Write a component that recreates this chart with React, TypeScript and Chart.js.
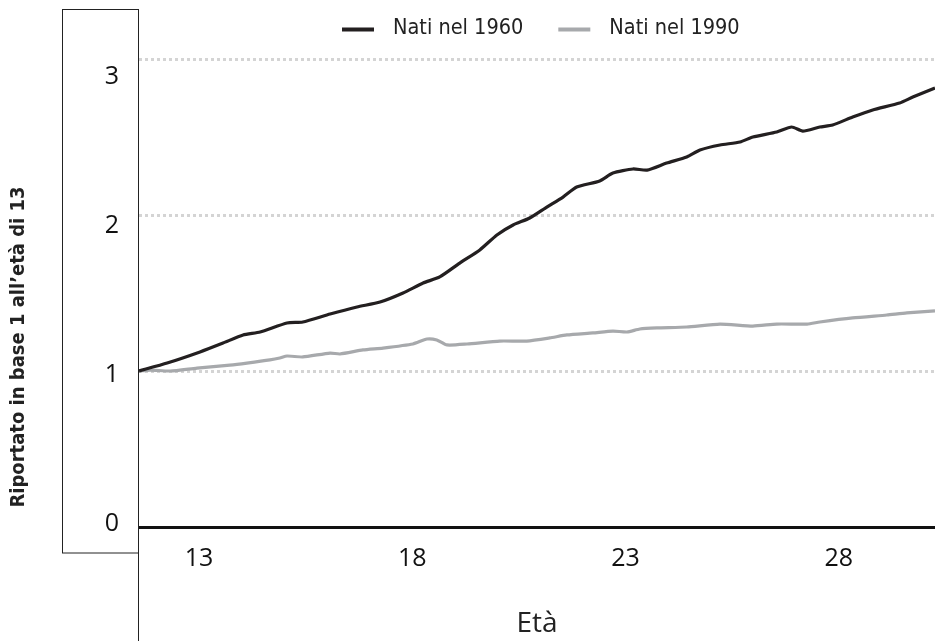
import React, { useEffect, useRef } from "react";
import { Chart, registerables } from "chart.js";

Chart.register(...registerables);

// ---- Data ----
const SERIES_LABELS = ["Nati nel 1960", "Nati nel 1990"];
const SERIES_COLORS = ["#231f20", "#a7a9ac"];

const ages1960 = [13.0, 13.66, 14.43, 14.97, 15.44, 15.84, 16.47, 16.84, 17.48, 18.11, 18.65, 19.19, 19.66, 20.05, 20.52, 20.99, 21.39, 21.77, 22.16, 22.56, 22.94, 23.26, 23.8, 24.11, 24.58, 24.91, 25.37, 25.84, 26.15, 26.62, 27.09, 27.39, 27.95, 28.3, 28.56, 28.96, 29.26, 29.73, 30.2, 30.83, 31.14, 31.66];
const values1960 = [1.0, 1.051, 1.122, 1.179, 1.231, 1.25, 1.308, 1.314, 1.365, 1.41, 1.442, 1.5, 1.564, 1.603, 1.692, 1.776, 1.872, 1.936, 1.981, 2.051, 2.115, 2.179, 2.218, 2.269, 2.295, 2.288, 2.333, 2.372, 2.417, 2.449, 2.468, 2.5, 2.532, 2.564, 2.538, 2.564, 2.577, 2.628, 2.673, 2.718, 2.756, 2.814];

const ages1990 = [13.0, 13.26, 13.73, 14.36, 15.13, 15.53, 16.07, 16.3, 16.47, 16.84, 17.48, 17.71, 18.25, 18.72, 19.42, 19.75, 19.98, 20.22, 20.69, 21.46, 22.09, 22.63, 23.03, 23.64, 24.11, 24.44, 24.74, 25.14, 25.84, 26.62, 27.39, 27.95, 28.66, 28.96, 29.73, 30.53, 31.0, 31.66];
const values1990 = [1.0, 1.006, 1.0, 1.019, 1.038, 1.051, 1.071, 1.083, 1.096, 1.09, 1.115, 1.109, 1.135, 1.147, 1.173, 1.205, 1.199, 1.167, 1.173, 1.192, 1.192, 1.212, 1.231, 1.244, 1.256, 1.25, 1.269, 1.276, 1.282, 1.301, 1.288, 1.301, 1.301, 1.314, 1.34, 1.359, 1.372, 1.385];

const xTicks = [13, 18, 23, 28];
const yGridTicks = [1, 2, 3];
const yLabelTicks = [0, 1, 2, 3];

const X_MIN = 13;
const X_MAX = 31.66;

const Y_TITLE = "Riportato in base 1 all\u2019et\u00e0 di 13";
const X_TITLE = "Et\u00e0";

const TICK_FONT = "'Open Sans', sans-serif";
const LEGEND_FONT = "'DejaVu Sans Condensed', 'DejaVu Sans', sans-serif";

const TOP = 15; // chart area top
const BOTTOM = 527; // chart area bottom (x axis line)
const LABEL_ZERO = 523.5; // where the "0" label sits

const decorPlugin = {
  id: "decor",
  beforeDatasetsDraw(chart: any) {
    const { ctx, chartArea } = chart;
    ctx.save();
    ctx.strokeStyle = "#222";
    ctx.lineWidth = 1;
    ctx.strokeRect(62.5, 9.5, chartArea.left - 0.5 - 62.5, 553 - 9.5);
    ctx.beginPath();
    ctx.moveTo(chartArea.left - 0.5, 9);
    ctx.lineTo(chartArea.left - 0.5, chart.height);
    ctx.stroke();
    ctx.restore();
  },
  afterDraw(chart: any) {
    const { ctx } = chart;
    ctx.save();
    ctx.translate(19, 347);
    ctx.rotate(-Math.PI / 2);
    ctx.fillStyle = "#222";
    ctx.font = "bold 20px 'DejaVu Sans Condensed', 'DejaVu Sans', sans-serif";
    ctx.textAlign = "center";
    ctx.textBaseline = "middle";
    ctx.fillText(Y_TITLE, 0, 0);
    ctx.restore();

    ctx.save();
    ctx.font = "21.5px " + LEGEND_FONT;
    ctx.textBaseline = "alphabetic";
    ctx.textAlign = "left";
    const items = chart.data.datasets;
    let x = 342;
    items.forEach((ds: any) => {
      ctx.fillStyle = ds.borderColor;
      ctx.fillRect(x, 27.5, 32, 4);
      ctx.fillStyle = "#222";
      ctx.fillText(ds.label, x + 51, 33.5);
      const w = ctx.measureText(ds.label).width;
      x = x + 51 + w + 35;
    });
    ctx.restore();
  },
};

export default function App() {
  const ref = useRef<HTMLCanvasElement | null>(null);
  useEffect(() => {
    if (!ref.current) return;
    const chart = new Chart(ref.current, {
      type: "line",
      data: {
        datasets: [
          {
            label: SERIES_LABELS[0],
            data: ages1960.map((a, i) => ({ x: a, y: values1960[i] })),
            borderColor: SERIES_COLORS[0],
            backgroundColor: SERIES_COLORS[0],
            borderWidth: 3.2,
            pointRadius: 0,
            tension: 0.2,
            yAxisID: "y",
          },
          {
            label: SERIES_LABELS[1],
            data: ages1990.map((a, i) => ({ x: a, y: values1990[i] })),
            borderColor: SERIES_COLORS[1],
            backgroundColor: SERIES_COLORS[1],
            borderWidth: 3.2,
            pointRadius: 0,
            tension: 0.2,
            yAxisID: "y",
          },
        ],
      },
      options: {
        animation: false,
        responsive: true,
        maintainAspectRatio: false,
        layout: { padding: { top: TOP, left: 0, right: 0, bottom: 0 } },
        plugins: {
          legend: { display: false },
          tooltip: { enabled: false },
        },
        scales: {
          x: {
            type: "linear",
            min: X_MIN,
            max: X_MAX,
            afterBuildTicks: (s: any) => {
              s.ticks = xTicks.map((v) => ({ value: v }));
            },
            afterFit: (s: any) => {
              s.height = 641 - BOTTOM;
            },
            grid: { display: true, color: "rgba(0,0,0,0)", drawTicks: false },
            border: { display: true, color: "#111", width: 3 },
            ticks: {
              autoSkip: false,
              maxRotation: 0,
              labelOffset: 60,
              padding: 17,
              color: "#111",
              font: { family: TICK_FONT, size: 25 },
            },
            title: {
              display: true,
              text: X_TITLE,
              color: "#222",
              font: { family: TICK_FONT, size: 28 },
              padding: { top: 0, bottom: 0 },
            },
          },
          y: {
            type: "linear",
            position: "left",
            min: 0,
            max: (BOTTOM - TOP) / 156,
            afterBuildTicks: (s: any) => {
              s.ticks = yGridTicks.map((v) => ({ value: v }));
            },
            afterFit: (s: any) => {
              s.width = 0;
            },
            ticks: { display: false, padding: 0 },
            grid: {
              color: "#d4d4d4",
              lineWidth: 3,
              drawTicks: false,
            },
            border: { display: false, dash: [3, 3] },
          },
          yl: {
            type: "linear",
            position: "left",
            min: (LABEL_ZERO - BOTTOM) / 149,
            max: (LABEL_ZERO - TOP) / 149,
            afterBuildTicks: (s: any) => {
              s.ticks = yLabelTicks.map((v) => ({ value: v }));
            },
            afterFit: (s: any) => {
              s.width = 139;
            },
            grid: { display: false, drawTicks: true, tickLength: 20 },
            border: { display: false },
            ticks: {
              padding: 0,
              color: "#111",
              font: { family: TICK_FONT, size: 25 },
            },
          },
        },
      },
      plugins: [decorPlugin],
    } as any);
    return () => chart.destroy();
  }, []);

  return (
    <div style={{ position: "fixed", left: 0, top: 0, width: 935, height: 641, background: "#fff" }}>
      <canvas ref={ref} />
    </div>
  );
}
